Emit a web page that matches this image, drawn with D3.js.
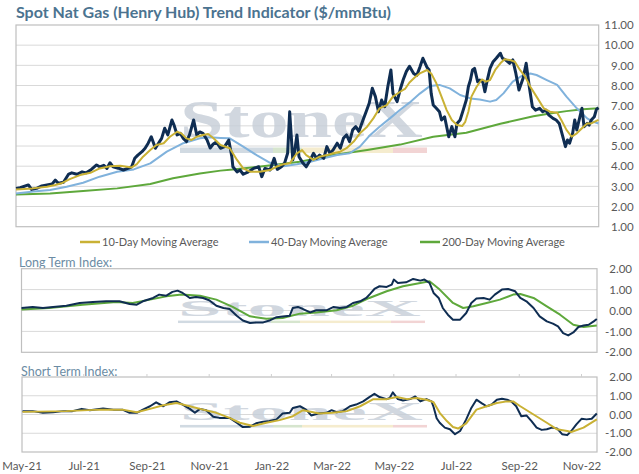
<!DOCTYPE html>
<html>
<head>
<meta charset="utf-8">
<script src="https://cdn.jsdelivr.net/npm/d3@7"></script>
<style>
  body { margin: 0; background: #fff; }
  svg { display: block; font-family: Lato, "Open Sans", sans-serif; }
</style>
</head>
<body>
<svg id="chart" width="639" height="474"></svg>
<script>
// series are [days since 1 May 2021, value]
var price = [[0,2.90],[4,2.93],[12,3.07],[15,2.85],[20,2.90],[25,3.02],[30,3.07],[35,3.12],[38,3.31],[41,3.15],[46,3.2],[51,3.61],[54,3.67],[59,3.6],[64,3.72],[68,3.67],[73,3.84],[78,4.06],[81,3.97],[85,4.04],[88,3.89],[91,4.17],[94,3.97],[99,3.9],[104,3.81],[109,3.9],[112,3.97],[115,4.39],[118,4.55],[122,4.72],[125,4.89],[128,5.14],[131,5.46],[135,4.89],[138,5.14],[141,5.38],[144,5.88],[147,5.55],[151,6.29],[153,6.04],[156,5.55],[159,5.63],[162,5.38],[165,5.22],[168,5.55],[172,6.29],[175,5.55],[178,5.7],[181,5.63],[185,5.3],[188,4.9],[191,5.1],[194,5.2],[198,4.89],[202,4.97],[206,5.3],[209,4.47],[210,3.97],[214,3.72],[217,3.81],[220,3.6],[225,3.72],[230,3.89],[235,3.97],[238,3.48],[241,3.89],[246,3.81],[250,4.39],[253,3.84],[257,3.97],[260,4.14],[263,4.64],[265,6.7],[268,4.31],[270,4.8],[272,5.55],[274,4.47],[278,4.14],[281,3.97],[285,4.31],[288,4.64],[291,4.39],[294,4.55],[298,4.39],[301,4.97],[304,4.64],[307,4.8],[311,5.14],[314,4.89],[317,5.38],[320,5.55],[323,5.22],[326,5.8],[329,5.96],[332,5.72],[336,6.29],[339,6.7],[342,7.12],[345,7.86],[348,7.45],[351,6.7],[354,7.28],[357,6.95],[360,7.94],[363,8.77],[365,7.61],[369,7.2],[372,7.8],[375,8.3],[378,8.7],[381,8.95],[385,8.6],[388,8.5],[391,8.9],[394,9.35],[398,8.9],[400,8.77],[402,7.61],[404,7.03],[407,6.87],[410,6.7],[412,6.29],[415,6.45],[419,5.46],[422,5.96],[425,5.46],[427,6.12],[430,6.29],[433,6.78],[436,7.28],[438,7.94],[440,8.27],[442,8.77],[444,8.85],[447,8.19],[449,8.27],[452,8.19],[454,7.69],[456,8.19],[459,8.85],[462,9.18],[465,9.35],[469,9.6],[471,9.35],[474,9.27],[478,9.1],[481,9.27],[484,8.6],[487,7.78],[491,8.36],[494,9.1],[497,7.94],[500,6.95],[503,6.78],[507,6.87],[510,6.7],[513,6.78],[516,6.53],[520,6.37],[523,6.29],[526,6.12],[529,5.55],[532,4.97],[534,5.3],[536,5.14],[539,5.63],[541,6.29],[543,5.8],[546,6.45],[548,6.87],[550,5.96],[553,6.12],[555,6.04],[557,6.29],[560,6.45],[562,6.82],[564,6.9]];

var ma10 = [[0,2.85],[16,2.9],[30,2.98],[38,3.07],[44,3.15],[52,3.36],[62,3.56],[72,3.67],[81,3.89],[91,4.0],[101,4.02],[112,3.94],[117,4.1],[123,4.47],[130,4.8],[136,5.05],[143,5.14],[149,5.46],[156,5.71],[160,5.63],[165,5.38],[170,5.3],[175,5.46],[181,5.55],[186,5.6],[191,5.4],[198,5.05],[207,4.89],[214,4.31],[220,3.89],[227,3.72],[236,3.72],[246,3.81],[252,3.97],[259,4.1],[265,4.14],[272,4.64],[277,4.8],[281,4.55],[288,4.31],[294,4.47],[301,4.55],[307,4.64],[314,4.72],[320,4.89],[327,5.22],[333,5.63],[340,5.96],[346,6.37],[352,6.87],[359,7.03],[365,7.45],[372,7.69],[377,7.85],[381,8.15],[386,8.4],[391,8.6],[398,8.77],[402,8.6],[407,8.11],[412,7.45],[417,6.78],[422,6.29],[427,6.04],[432,5.99],[435,6.2],[438,6.7],[441,7.45],[446,7.94],[451,8.3],[455,8.19],[459,8.27],[464,8.77],[469,9.1],[473,9.3],[478,9.27],[483,9.18],[488,8.77],[493,8.44],[498,7.94],[504,7.45],[511,6.87],[517,6.7],[524,6.65],[528,6.29],[533,5.8],[538,5.46],[543,5.63],[548,5.88],[553,6.12],[557,6.12],[564,6.3]];

var ma40 = [[0,2.65],[17,2.74],[33,2.82],[49,2.98],[65,3.18],[81,3.48],[98,3.72],[114,3.84],[130,4.14],[146,4.72],[162,5.14],[178,5.38],[188,5.43],[198,5.4],[207,5.38],[220,4.97],[233,4.55],[246,4.17],[259,4.0],[272,4.1],[285,4.22],[298,4.39],[311,4.55],[323,4.64],[333,4.97],[343,5.55],[352,5.96],[362,6.37],[372,6.8],[381,7.15],[391,7.6],[401,7.98],[410,8.03],[420,7.86],[430,7.53],[440,7.36],[449,7.31],[459,7.2],[465,7.28],[472,7.61],[481,8.19],[491,8.52],[498,8.6],[504,8.52],[514,8.27],[524,8.03],[533,7.45],[543,6.87],[553,6.37],[559,6.2],[564,6.12]];

var ma200 = [[0,2.6],[33,2.65],[65,2.77],[98,2.9],[130,3.12],[152,3.4],[178,3.64],[198,3.78],[210,3.84],[243,4.02],[275,4.22],[307,4.55],[340,4.8],[372,5.07],[404,5.46],[436,5.66],[469,6.1],[501,6.48],[517,6.61],[533,6.73],[549,6.82],[564,6.87]];

var longIndex = [[0,0.12],[11,0.17],[21,0.12],[31,0.17],[44,0.23],[57,0.36],[70,0.41],[83,0.44],[96,0.44],[106,0.31],[113,0.28],[119,0.44],[129,0.6],[135,0.76],[142,0.71],[148,0.89],[153,0.95],[158,0.84],[165,0.6],[171,0.65],[178,0.6],[184,0.49],[191,0.23],[198,0.12],[204,0.07],[211,-0.25],[217,-0.48],[224,-0.6],[230,-0.57],[237,-0.57],[243,-0.48],[250,-0.32],[256,-0.29],[263,-0.25],[266,0.12],[271,0.17],[276,0.07],[283,-0.09],[289,0.01],[299,0.01],[306,0.17],[312,0.12],[319,0.17],[325,0.36],[332,0.44],[338,0.6],[342,0.81],[346,1.03],[351,1.16],[358,1.13],[363,1.24],[365,1.48],[369,1.32],[377,1.35],[384,1.51],[391,1.43],[395,1.48],[400,1.32],[404,0.84],[409,0.6],[413,0.12],[418,-0.2],[423,-0.44],[430,-0.44],[436,-0.12],[441,0.36],[446,0.57],[453,0.6],[459,0.52],[464,0.76],[471,1.0],[477,1.03],[484,0.92],[489,0.6],[495,0.44],[502,0.12],[508,-0.28],[515,-0.52],[521,-0.63],[526,-0.76],[531,-1.08],[536,-1.19],[541,-1.05],[546,-0.79],[551,-0.72],[556,-0.68],[561,-0.52],[564,-0.41]];

var longAvg = [[0,0.05],[27,0.12],[60,0.28],[93,0.41],[109,0.36],[126,0.52],[142,0.68],[157,0.76],[175,0.71],[191,0.52],[207,0.17],[224,-0.28],[240,-0.4],[256,-0.36],[273,-0.15],[289,-0.09],[309,0.01],[325,0.23],[341,0.6],[358,0.92],[374,1.16],[391,1.32],[400,1.4],[410,1.0],[423,0.36],[433,0.12],[443,0.2],[456,0.36],[469,0.52],[482,0.76],[489,0.79],[502,0.6],[515,0.2],[528,-0.2],[541,-0.68],[551,-0.79],[564,-0.72]];

var shortIndex = [[1,0.18],[11,0.18],[21,0.09],[31,0.12],[41,0.18],[50,0.18],[59,0.3],[67,0.23],[80,0.32],[90,0.26],[99,0.26],[106,0.09],[113,0.09],[119,0.26],[126,0.44],[132,0.65],[139,0.44],[145,0.65],[152,0.7],[158,0.53],[165,0.3],[170,0.09],[175,0.3],[181,0.23],[188,-0.12],[194,-0.18],[204,-0.18],[211,-0.44],[217,-0.67],[224,-0.65],[230,-0.47],[237,-0.39],[243,-0.35],[250,-0.26],[256,0.05],[263,0.09],[266,0.35],[273,0.44],[279,0.26],[284,-0.05],[291,0.05],[299,0.09],[304,0.23],[309,0.12],[315,0.18],[322,0.44],[328,0.53],[335,0.7],[341,0.93],[346,1.1],[351,0.93],[358,0.82],[361,0.88],[364,1.18],[369,0.82],[374,0.75],[381,0.82],[386,0.96],[391,0.7],[397,0.82],[402,0.7],[404,0.4],[407,-0.2],[410,-0.44],[415,-0.7],[420,-0.79],[425,-1.05],[430,-0.88],[436,-0.26],[441,0.35],[446,0.79],[451,0.61],[456,0.44],[461,0.53],[466,0.79],[471,0.84],[476,0.79],[480,0.7],[485,0.44],[490,-0.09],[495,-0.05],[500,-0.35],[505,-0.7],[510,-0.82],[515,-0.79],[520,-0.7],[525,-0.74],[530,-1.05],[535,-1.1],[539,-0.88],[544,-0.53],[549,-0.23],[554,-0.26],[559,-0.23],[564,0.05]];

var shortAvg = [[1,0.14],[44,0.18],[77,0.26],[99,0.26],[113,0.12],[126,0.3],[139,0.49],[152,0.61],[165,0.44],[178,0.26],[191,0.09],[204,-0.18],[214,-0.44],[227,-0.61],[240,-0.44],[253,-0.3],[266,-0.09],[276,0.23],[286,0.12],[292,0.05],[305,0.09],[319,0.18],[332,0.44],[345,0.82],[358,0.82],[368,0.93],[378,0.82],[387,0.88],[397,0.79],[404,0.65],[410,0.09],[417,-0.35],[423,-0.67],[428,-0.75],[436,-0.47],[446,0.26],[456,0.44],[466,0.61],[476,0.7],[482,0.7],[489,0.44],[502,0.0],[515,-0.44],[525,-0.79],[535,-0.88],[539,-0.93],[551,-0.7],[564,-0.26]];

var priceTicks = [1,2,3,4,5,6,7,8,9,10,11]
var indexTicks = [-2,-1,0,1,2]
var monthTicks = ["2021-05-01","2021-07-01","2021-09-01","2021-11-01","2022-01-01","2022-03-01","2022-05-01","2022-07-01","2022-09-01","2022-11-01"]
var legendNames = ["10-Day Moving Average","40-Day Moving Average","200-Day Moving Average"]

var colors = {price: "#0f2d52", ma10: "#c9b134", ma40: "#80b2dc", ma200: "#5ea83b"}

var start = new Date(2021, 4, 1)
var end = new Date(2022, 10, 16, 5)
var toDate = d => d3.timeDay.offset(start, d)

var panels = {
    top:   {left: 16, right: 598.7, top: 25, bottom: 226.7},
    long:  {left: 21.5, right: 597, top: 268.7, bottom: 352.3},
    short: {left: 22, right: 597, top: 377, bottom: 452}
}

var svg = d3.select("#chart")
svg.append("rect").attr("width", 639).attr("height", 474).attr("fill", "#fff")

var xTop = d3.scaleTime().domain([start, end]).range([panels.top.left, panels.top.right])
var xLow = d3.scaleTime().domain([start, end]).range([panels.long.left, panels.long.right])
var yTop = d3.scaleLinear().domain([1, 11]).range([panels.top.bottom, panels.top.top])
var yLong = d3.scaleLinear().domain([-2, 2]).range([panels.long.bottom, panels.long.top])
var yShort = d3.scaleLinear().domain([-2, 2]).range([panels.short.bottom, panels.short.top])

// title
svg.append("text")
    .attr("x", 16).attr("y", 18)
    .attr("font-size", 16).attr("font-weight", 700)
    .attr("fill", "#4b7390")
    .text("Spot Nat Gas (Henry Hub) Trend Indicator ($/mmBtu)")

function drawWatermark(x, y, sy) {
    var g = svg.append("g").attr("transform", "translate(" + x + "," + y + ") scale(1," + sy + ")")
    g.append("text")
        .attr("x", 0).attr("y", 0)
        .attr("font-family", "'Liberation Serif', serif")
        .attr("font-weight", 700).attr("font-size", 52)
        .attr("textLength", 243).attr("lengthAdjust", "spacingAndGlyphs")
        .attr("fill", "#c6ced8").attr("opacity", 0.8)
        .text("StoneX")
    var segs = [[0, 93, "#c9d3dd"], [93, 122, "#cfe0c6"], [122, 213, "#f3e9c6"], [213, 247, "#f0cccc"]]
    g.selectAll("rect.wm").data(segs).enter().append("rect")
        .attr("x", d => d[0]).attr("width", d => d[1] - d[0])
        .attr("y", 10.5).attr("height", 5.5)
        .attr("fill", d => d[2]).attr("opacity", 0.85)
}

function drawPanel(p, y, ticks) {
    svg.append("g").selectAll("line")
        .data(ticks.slice(1, -1))
        .enter().append("line")
        .attr("x1", p.left).attr("x2", p.right)
        .attr("y1", d => y(d)).attr("y2", d => y(d))
        .attr("stroke", "#d9d9d9").attr("stroke-width", 1)
    svg.append("rect")
        .attr("x", p.left).attr("y", p.top)
        .attr("width", p.right - p.left).attr("height", p.bottom - p.top)
        .attr("fill", "none").attr("stroke", "#bfbfbf").attr("stroke-width", 1.2)
    var ax = svg.append("g")
        .attr("transform", "translate(" + p.right + ",0)")
        .call(d3.axisRight(y).tickValues(ticks).tickSize(0).tickFormat(d => d.toFixed(2)))
    ax.select(".domain").remove()
    ax.selectAll("text")
        .attr("x", 35).attr("text-anchor", "end")
        .attr("font-family", "Lato, sans-serif").attr("font-size", 11.5).attr("fill", "#595959")
}

function drawLine(data, x, y, color, width) {
    var line = d3.line().x(d => x(toDate(d[0]))).y(d => y(d[1]))
    svg.append("path")
        .datum(data)
        .attr("d", line)
        .attr("fill", "none")
        .attr("stroke", color)
        .attr("stroke-width", width)
        .attr("stroke-linejoin", "round")
}

// top panel
drawPanel(panels.top, yTop, priceTicks)
drawWatermark(180, 137, 1)
drawLine(ma200, xTop, yTop, colors.ma200, 2)
drawLine(ma40, xTop, yTop, colors.ma40, 2)
drawLine(price, xTop, yTop, colors.price, 3)
drawLine(ma10, xTop, yTop, colors.ma10, 2)

// legend
var legend = svg.append("g").selectAll("g")
    .data(legendNames)
    .enter().append("g")
    .attr("transform", (d, i) => "translate(" + [80, 249, 420][i] + ",242)")
legend.append("line")
    .attr("x1", 0).attr("x2", 20).attr("y1", 0).attr("y2", 0)
    .attr("stroke", (d, i) => [colors.ma10, colors.ma40, colors.ma200][i])
    .attr("stroke-width", 2.5)
legend.append("text")
    .attr("x", 22).attr("y", 4)
    .attr("font-size", 11).attr("fill", "#595959")
    .text(d => d)

// long term panel
svg.append("text").attr("x", 19).attr("y", 266.5)
    .attr("font-size", 12.5).attr("fill", "#6b8ca4")
    .text("Long Term Index:")
drawPanel(panels.long, yLong, indexTicks)
drawWatermark(178, 316, 0.44)
drawLine(longAvg, xLow, yLong, colors.ma200, 2)
drawLine(longIndex, xLow, yLong, colors.price, 2)

// short term panel
svg.append("text").attr("x", 21).attr("y", 376)
    .attr("font-size", 12.5).attr("fill", "#6b8ca4")
    .text("Short Term Index:")
drawPanel(panels.short, yShort, indexTicks)
drawWatermark(180, 420, 0.47)
drawLine(shortIndex, xLow, yShort, colors.price, 2)
drawLine(shortAvg, xLow, yShort, colors.ma10, 2)

var parse = d3.timeParse("%Y-%m-%d")
var xAxis = svg.append("g")
    .attr("transform", "translate(0," + panels.short.bottom + ")")
    .call(d3.axisBottom(xLow).tickValues(monthTicks.map(parse)).tickSize(0).tickFormat(d3.timeFormat("%b-%y")))
xAxis.select(".domain").remove()
xAxis.selectAll("text")
    .attr("y", 10)
    .attr("font-family", "Lato, sans-serif").attr("font-size", 11.5).attr("fill", "#595959")

// small ticks on top edge of lower panels
svg.append("g").selectAll("line")
    .data(monthTicks.map(parse).slice(1))
    .enter().append("line")
    .attr("x1", d => xLow(d)).attr("x2", d => xLow(d))
    .attr("y1", panels.short.top - 3).attr("y2", panels.short.top)
    .attr("stroke", "#d0d0d0")
</script>
</body>
</html>
